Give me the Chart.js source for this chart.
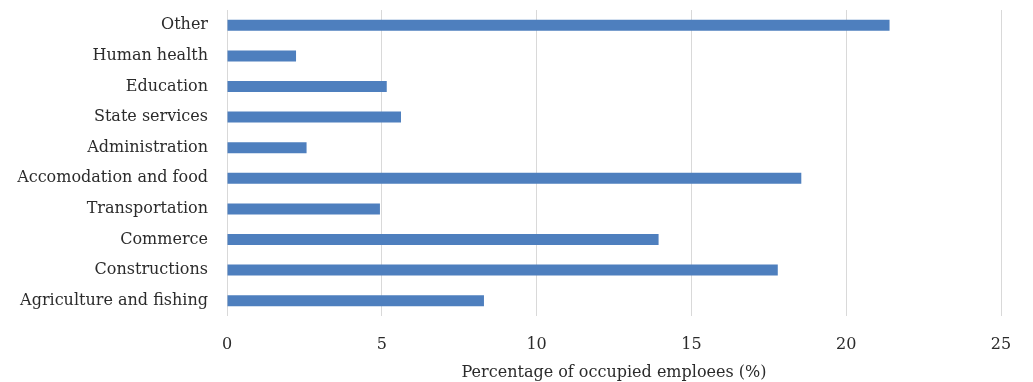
<!DOCTYPE html>
<html>
<head>
<meta charset="utf-8">
<script src="https://cdn.jsdelivr.net/npm/chart.js@4/dist/chart.umd.min.js"></script>
<style>
  html, body { margin: 0; padding: 0; background: #fff; }
  #wrap { width: 1033px; height: 382px; }
</style>
</head>
<body>
<div id="wrap"><canvas id="chartSetores"></canvas></div>
<script>
// sectors, listed top to bottom
const setores = [
    'Other',
    'Human health',
    'Education',
    'State services',
    'Administration',
    'Accomodation and food',
    'Transportation',
    'Commerce',
    'Constructions',
    'Agriculture and fishing'
];

// % of occupied employees per sector
const percentuais = [21.4, 2.23, 5.16, 5.62, 2.57, 18.55, 4.94, 13.94, 17.79, 8.3];

const xTicks = [0, 5, 10, 15, 20, 25];

const fonte = 'DejaVu Serif';
const corTexto = '#2b2b2b';

new Chart(document.getElementById('chartSetores'), {
    type: 'bar',
    data: {
        labels: setores,
        datasets: [{
            data: percentuais,
            backgroundColor: '#4e7fbe',
            borderWidth: 0,
            categoryPercentage: 1,
            barPercentage: 0.36
        }]
    },
    options: {
        indexAxis: 'y',
        responsive: true,
        maintainAspectRatio: false,
        animation: false,
        layout: { padding: { top: 10, right: 32, left: 0, bottom: 0 } },
        plugins: {
            legend: { display: false },
            tooltip: { enabled: false }
        },
        scales: {
            x: {
                min: 0,
                max: 25,
                afterBuildTicks: (axis) => { axis.ticks = xTicks.map(v => ({ value: v })); },
                afterFit: (axis) => { axis.height = 66; },
                grid: { color: '#d9d9d9', lineWidth: 1, drawTicks: false },
                border: { display: false },
                ticks: { padding: 19, color: corTexto, font: { family: fonte, size: 16 } },
                title: {
                    display: true,
                    text: 'Percentage of occupied emploees (%)',
                    color: corTexto,
                    padding: 0,
                    font: { family: fonte, size: 16 }
                }
            },
            y: {
                // fixed label column, no extra padding above the first category
                afterFit: (axis) => {
                    axis.width = 227;
                    axis.paddingTop = 0;
                    axis.paddingBottom = 0;
                },
                grid: { display: false, drawTicks: false },
                border: { display: false },
                ticks: { padding: 19, color: corTexto, font: { family: fonte, size: 16 } }
            }
        }
    }
});
</script>
</body>
</html>
